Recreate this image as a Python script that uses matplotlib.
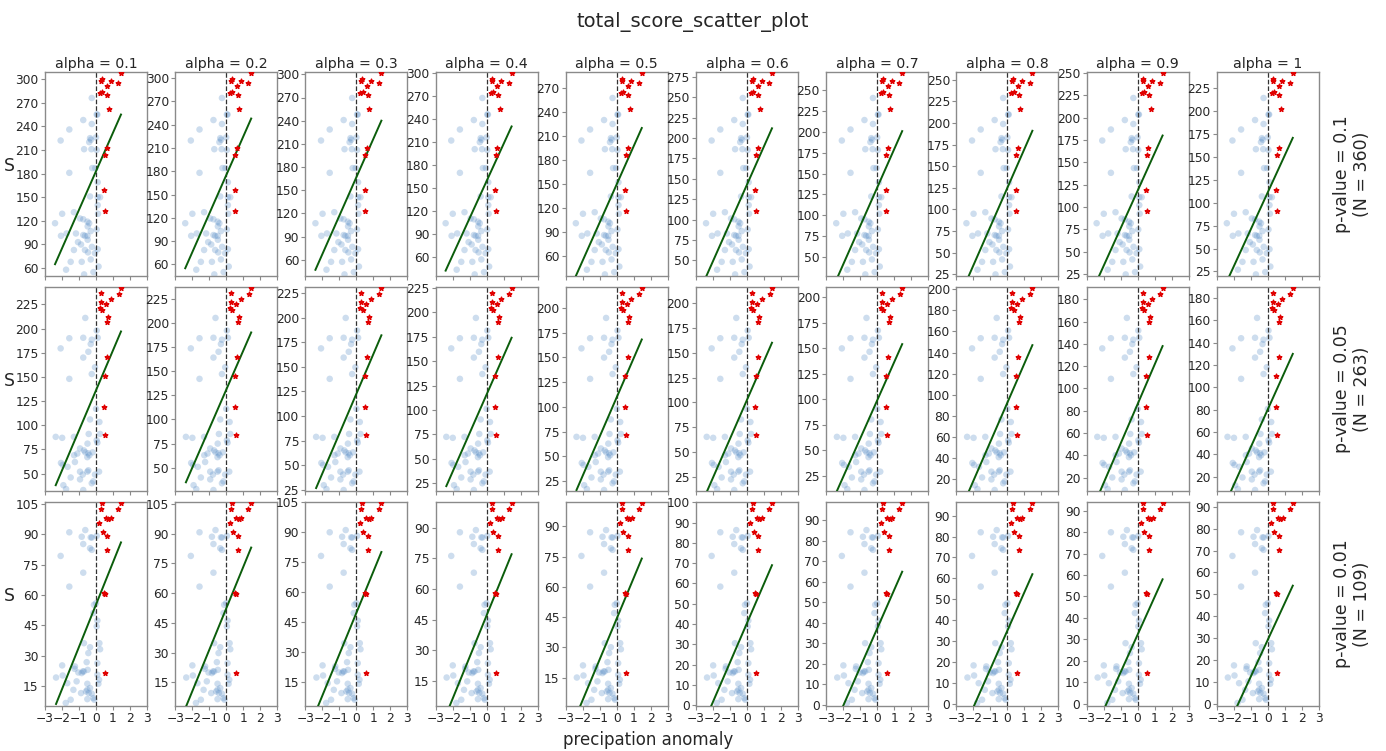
import numpy as np
import matplotlib
matplotlib.use("Agg")
import matplotlib.pyplot as plt
from matplotlib.ticker import MultipleLocator

# ---------------- data ----------------
alphas = ["0.1", "0.2", "0.3", "0.4", "0.5", "0.6", "0.7", "0.8", "0.9", "1"]
row_labels = ["p-value = 0.1\n(N = 360)", "p-value = 0.05\n(N = 263)", "p-value = 0.01\n(N = 109)"]

# row 1 (p = 0.1), scores read from the alpha = 0.1 panel
r1_blue_x = [-0.25, -0.75, -1.57, -2.08, -0.25, 0.04, 0.08, -0.35, -0.30, -0.40, 0.00, -0.70, -0.27, 0.04,
             -0.22, -0.04, -1.57, 0.10, -0.35, 0.10, 0.24, 0.10, 0.12, -1.30, -1.99, -2.41, -0.94, -0.75,
             -0.50, -0.40, -0.49, -2.06, -1.73, -1.18, -0.75, -0.65, -0.50, -0.31, -0.49, 0.04, -1.06, -0.88,
             -1.30, -0.65, -0.47, -0.24, 0.10, -1.49, -0.84, -0.31, -0.06, -1.76, -0.70, 0.15, -0.15]
r1_blue_y = [276, 248, 236, 222, 243, 255, 255, 225, 223, 220, 226, 211, 211, 210,
             187, 187, 181, 169, 151, 150, 150, 140, 129, 131, 129, 117, 123, 122,
             119, 117, 113, 101, 104, 104, 102, 101, 101, 107, 96, 109, 93, 90,
             83, 83, 80, 87, 84, 68, 68, 71, 79, 58, 52, 62, 55]
r1_red_x = [1.47, 0.33, 0.29, 0.86, 1.31, 0.63, 0.24, 0.37, 0.67, 0.76, 0.63, 0.53, 0.49, 0.53]
r1_red_y = [307.6, 300, 297, 297, 295, 291.5, 282, 284, 280, 262, 212, 203, 159.5, 132]

# row 2 (p = 0.05)
r2_blue_x = [-0.63, -2.08, -1.57, -0.75, -0.25, 0.04, 0.10, -0.31, -0.45, -0.75, -1.57, -0.25, -0.06,
             0.00, -0.35, 0.20, -0.43, 0.24, 0.04, 0.08, -2.37, -1.99, -1.30, -0.50, -0.94, -0.71,
             -0.63, -0.45, -1.29, -1.10, -0.51, -0.39, -0.20, -2.06, -1.96, -1.24, -1.67, -0.94, -0.78,
             -0.51, -0.45, 0.18, -0.25, -0.16, -1.49, -0.94, -1.92, -1.76, -0.75, -0.06]
r2_blue_y = [211, 179.5, 190, 190.5, 188.5, 198, 190.5, 184, 176, 170, 148, 153, 160,
             117, 106, 103.4, 91, 91, 84.5, 82, 88, 87, 88, 81, 76, 74,
             72, 71, 69, 70.7, 67, 69, 72, 61, 59, 62, 57, 52, 49,
             52, 53.4, 52, 40, 42, 46, 44, 38, 34, 33, 49]
r2_red_x = [1.47, 0.29, 1.33, 0.29, 0.86, 0.59, 0.24, 0.37, 0.73, 0.67, 0.65, 0.51, 0.49, 0.55]
r2_red_y = [242, 236.7, 236, 228, 230.5, 225.7, 221, 219.5, 212, 206.7, 171, 150.6, 119, 89.6]

# row 3 (p = 0.01)
r3_blue_x = [-1.57, -0.63, -0.84, -0.31, -0.24, 0.04, -0.75, -0.35, -0.25, -2.08, -0.75, -1.57, 0.00,
             -0.12, -0.16, 0.08, 0.04, 0.20, 0.24, -0.71, -0.35, -0.45, -1.24, -1.99, -1.26, -0.55,
             -0.78, -0.84, -0.71, -1.04, -0.49, 0.08, 0.08, -1.96, -2.35, -1.14, -1.69, -0.51, -0.35,
             0.18, 0.14, -0.88, -0.51, -0.59, -0.43, -0.25, -1.33, -1.49, -0.16, -0.10, -0.51, -1.78]
r3_blue_y = [91, 92.1, 88.8, 88.5, 88.4, 89.2, 85.2, 83.1, 82.3, 79.3, 71, 64.1, 55.9,
             55.1, 51, 47.3, 44.4, 36.1, 33.1, 36.1, 34.1, 31.2, 24.6, 25.1, 23.4, 26.7,
             22.1, 21.3, 22.1, 21.6, 22.9, 26.2, 20.5, 20.1, 19.1, 17.2, 16.3, 16, 13.9,
             18, 16, 11.4, 13, 12.2, 11.4, 11.1, 13, 8.1, 8.9, 8.1, 8.4, 6.5]
r3_red_x = [1.47, 0.33, 0.29, 1.31, 0.20, 0.59, 0.73, 0.88, 0.39, 0.67, 0.67, 0.49, 0.55, 0.55]
r3_red_y = [105.3, 105.3, 102.4, 102.4, 95.4, 97.9, 97.6, 97.9, 91.3, 89.2, 82.3, 60.8, 60.3, 21.3]

# per-panel score range shown (bottom, top), per row
r1_ylim = [(50, 309), (45, 308), (39, 303), (35, 301), (35, 290), (31, 281), (27, 272), (23, 259), (23, 251), (20, 243)]
r2_ylim = [(32, 243), (26, 237), (24, 231), (17, 226), (15, 221), (11, 216), (10, 210), (9, 202), (8, 191), (7, 190)]
r3_ylim = [(5, 106), (3, 106), (3, 105), (2.6, 102.6), (1, 102), (-0.3, 100.1), (-0.5, 99), (-1, 96.5), (-1, 94), (-0.8, 92.1)]

# regression line: score at the smallest and largest anomaly
r1_fit = [(65, 255), (55, 248), (47, 240), (42, 230), (35, 220), (30, 212), (22, 201), (17, 191), (17, 180), (14, 171)]
r2_fit = [(38, 197), (35, 190), (27, 182), (22, 174), (16, 168), (10, 160), (10, 154), (5, 147), (2, 138), (0, 130)]
r3_fit = [(6, 86), (3, 83), (1, 80), (-1, 77), (-3, 74), (-5, 69), (-7, 65), (-8, 62), (-9, 58), (-10, 54)]

# y tick spacing per panel
r1_step = [30, 30, 30, 30, 30, 25, 25, 25, 25, 25]
r2_step = [25, 25, 25, 25, 25, 25, 25, 20, 20, 20]
r3_step = [15, 15, 15, 15, 15, 10, 10, 10, 10, 10]

rows = [
    (r1_blue_x, r1_blue_y, r1_red_x, r1_red_y, r1_ylim, r1_fit, r1_step),
    (r2_blue_x, r2_blue_y, r2_red_x, r2_red_y, r2_ylim, r2_fit, r2_step),
    (r3_blue_x, r3_blue_y, r3_red_x, r3_red_y, r3_ylim, r3_fit, r3_step),
]

# ---------------- figure ----------------
W, H = 1386, 751
fig = plt.figure(figsize=(W / 100, H / 100), dpi=100)
spine_col = "#8a8a8a"
text_col = "#262626"

row_tops = [72, 287, 502]
ax_h = 204
ax_w = 102
col_left0 = 45
col_pitch = 130.2

for r, (bx, by, rx, ry, ylims, fits, steps) in enumerate(rows):
    bx = np.array(bx); by = np.array(by); rx = np.array(rx); ry = np.array(ry)
    lo0, hi0 = ylims[0]
    xmin = min(bx.min(), rx.min())
    xmax = max(bx.max(), rx.max())
    for c in range(10):
        left = col_left0 + c * col_pitch
        ax = fig.add_axes([left / W, 1 - (row_tops[r] + ax_h) / H, ax_w / W, ax_h / H])
        lo, hi = ylims[c]
        scale = (hi - lo) / (hi0 - lo0)
        pby = lo + (by - lo0) * scale
        pry = lo + (ry - lo0) * scale
        ax.scatter(bx, pby, s=22, color="#5b8fc7", alpha=0.3, edgecolors="none", zorder=2)
        ax.axvline(0, color="#333333", ls="--", lw=0.9, zorder=3)
        ax.plot([xmin, xmax], list(fits[c]), color="#0b5d0b", lw=1.4, zorder=4)
        ax.scatter(rx, pry, s=12, marker="*", color="#e00000", zorder=5)
        ax.set_xlim(-3, 3)
        ax.set_ylim(lo, hi)
        ax.xaxis.set_major_locator(MultipleLocator(1))
        ax.yaxis.set_major_locator(MultipleLocator(steps[c]))
        ax.tick_params(colors=spine_col, labelcolor=text_col, labelsize=8.8, length=3, width=0.8, pad=1.5)
        for sp in ax.spines.values():
            sp.set_color(spine_col)
            sp.set_linewidth(1.0)
        if r < 2:
            ax.set_xticklabels([])
        if r == 0:
            ax.set_title(f"alpha = {alphas[c]}", fontsize=10.2, color=text_col, pad=3)

for r in range(3):
    yc = row_tops[r] + ax_h / 2
    fig.text(1352 / W, 1 - yc / H, row_labels[r], rotation=90, ha="center", va="center",
             fontsize=12.5, color=text_col, multialignment="center")
    fig.text(9 / W, 1 - (yc - 8) / H, "S", ha="center", va="center", fontsize=12.5, color=text_col)

fig.text(693 / W, 1 - 22 / H, "total_score_scatter_plot", ha="center", va="center", fontsize=14, color=text_col)
fig.text(648 / W, 1 - 740 / H, "precipation anomaly", ha="center", va="center", fontsize=12, color=text_col)

fig.savefig("out.png", dpi=100)
